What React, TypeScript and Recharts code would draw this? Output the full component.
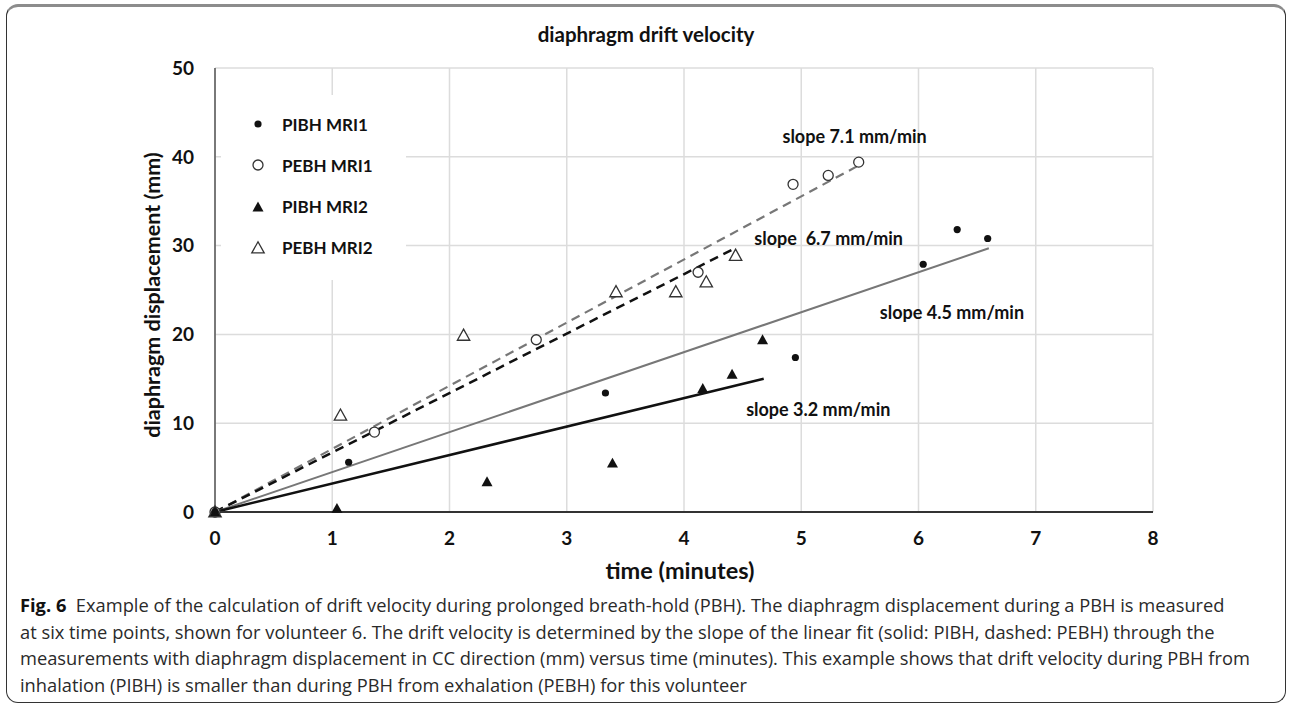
import {
    CartesianGrid,
    ReferenceDot,
    ReferenceLine,
    Scatter,
    ScatterChart,
    XAxis,
    YAxis,
} from "recharts"

// points (time in minutes, displacement in mm)
const pibhMri1 = [
    { x: 0, y: 0 },
    { x: 1.14, y: 5.6 },
    { x: 3.33, y: 13.4 },
    { x: 4.95, y: 17.4 },
    { x: 6.04, y: 27.9 },
    { x: 6.33, y: 31.8 },
    { x: 6.59, y: 30.8 },
]
const pebhMri1 = [
    { x: 0, y: 0 },
    { x: 1.36, y: 9.0 },
    { x: 2.74, y: 19.4 },
    { x: 4.12, y: 27.0 },
    { x: 4.93, y: 36.9 },
    { x: 5.23, y: 37.9 },
    { x: 5.49, y: 39.4 },
]
const pibhMri2 = [
    { x: 0, y: 0 },
    { x: 1.04, y: 0.4 },
    { x: 2.32, y: 3.4 },
    { x: 3.39, y: 5.5 },
    { x: 4.16, y: 13.9 },
    { x: 4.41, y: 15.5 },
    { x: 4.67, y: 19.4 },
]
const pebhMri2 = [
    { x: 0, y: 0 },
    { x: 1.07, y: 10.9 },
    { x: 2.12, y: 19.9 },
    { x: 3.42, y: 24.8 },
    { x: 3.93, y: 24.8 },
    { x: 4.19, y: 25.9 },
    { x: 4.44, y: 28.9 },
]

// linear fits (start and end points)
const fitPibhMri1 = [{ x: 0, y: 0 }, { x: 6.6, y: 29.7 }]
const fitPebhMri1 = [{ x: 0, y: 0 }, { x: 5.5, y: 39.1 }]
const fitPibhMri2 = [{ x: 0, y: 0 }, { x: 4.68, y: 15.0 }]
const fitPebhMri2 = [{ x: 0, y: 0 }, { x: 4.45, y: 29.8 }]

const slopeLabels = [
    { x: 4.84, y: 42.3, text: "slope 7.1 mm/min" },
    { x: 4.6, y: 30.9, text: "slope  6.7 mm/min" },
    { x: 5.67, y: 22.5, text: "slope 4.5 mm/min" },
    { x: 4.53, y: 11.6, text: "slope 3.2 mm/min" },
]

const xTicks = [0, 1, 2, 3, 4, 5, 6, 7, 8]
const yTicks = [0, 10, 20, 30, 40, 50]

const seriesNames = ["PIBH MRI1", "PEBH MRI1", "PIBH MRI2", "PEBH MRI2"]

const captionLines = [
    "Example of the calculation of drift velocity during prolonged breath-hold (PBH). The diaphragm displacement during a PBH is measured",
    "at six time points, shown for volunteer 6. The drift velocity is determined by the slope of the linear fit (solid: PIBH, dashed: PEBH) through the",
    "measurements with diaphragm displacement in CC direction (mm) versus time (minutes). This example shows that drift velocity during PBH from",
    "inhalation (PIBH) is smaller than during PBH from exhalation (PEBH) for this volunteer",
]

const chartFont = "Lato, 'Open Sans', sans-serif"

function marker(kind: number, cx: number, cy: number) {
    if (kind === 0) return <circle cx={cx} cy={cy} r={3.6} fill="#111" />
    if (kind === 1)
        return <circle cx={cx} cy={cy} r={5} fill="#fff" stroke="#333" strokeWidth={1.3} />
    if (kind === 2) {
        const s = 5.5
        return (
            <polygon
                points={`${cx},${cy - s} ${cx + s},${cy + s * 0.8} ${cx - s},${cy + s * 0.8}`}
                fill="#111"
            />
        )
    }
    const s = 6.2
    return (
        <polygon
            points={`${cx},${cy - s} ${cx + s},${cy + s * 0.8} ${cx - s},${cy + s * 0.8}`}
            fill="#fff"
            stroke="#333"
            strokeWidth={1.3}
        />
    )
}

const shapeOf = (kind: number) => (props: any) => marker(kind, props.cx, props.cy)

// legend sits in a white box in the upper left of the plot
function LegendBox() {
    return (
        <div
            style={{
                position: "absolute",
                left: 221,
                top: 95,
                width: 185,
                height: 185,
                background: "#fff",
                fontFamily: chartFont,
            }}
        >
            {seriesNames.map((name, i) => (
                <div
                    key={name}
                    style={{
                        position: "absolute",
                        left: 0,
                        top: 18 + i * 41.3,
                        height: 22,
                        display: "flex",
                        alignItems: "center",
                    }}
                >
                    <svg width={59} height={22}>
                        {marker(i, 37, 11)}
                    </svg>
                    <span style={{ marginLeft: 2, fontWeight: 700, fontSize: 17, color: "#111" }}>{name}</span>
                </div>
            ))}
        </div>
    )
}

export default function App() {
    return (
        <div style={{ position: "absolute", left: 0, top: 0, width: 1290, height: 706, background: "#fff" }}>
            <div
                style={{
                    position: "absolute",
                    left: 6,
                    top: 4,
                    width: 1280,
                    height: 699,
                    boxSizing: "border-box",
                    border: "1.5px solid #333",
                    borderTop: "3px solid #8c8c8c",
                    borderRadius: 12,
                }}
            />
            <div
                style={{
                    position: "absolute",
                    left: 0,
                    width: 1292,
                    top: 22,
                    textAlign: "center",
                    fontFamily: chartFont,
                    fontWeight: 700,
                    fontSize: 20.5,
                    color: "#111",
                }}
            >
                diaphragm drift velocity
            </div>
            <div style={{ position: "absolute", left: 0, top: 0 }}>
                <ScatterChart width={1290} height={600} margin={{ top: 68, right: 137, left: 155, bottom: 28 }}>
                    <CartesianGrid stroke="#dcdcdc" strokeWidth={1.5} horizontalValues={yTicks} verticalValues={xTicks} />
                    <XAxis
                        type="number"
                        dataKey="x"
                        domain={[0, 8]}
                        ticks={xTicks}
                        height={60}
                        axisLine={{ stroke: "#333", strokeWidth: 2 }}
                        tickLine={false}
                        tickMargin={14}
                        tick={{ fill: "#111", fontSize: 19, fontWeight: 700, fontFamily: chartFont }}
                        label={{
                            value: "time (minutes)",
                            position: "bottom",
                            offset: -10,
                            dx: -4,
                            fill: "#111",
                            fontSize: 23.5,
                            fontWeight: 700,
                            fontFamily: chartFont,
                        }}
                    />
                    <YAxis
                        type="number"
                        dataKey="y"
                        domain={[0, 50]}
                        ticks={yTicks}
                        width={60}
                        axisLine={{ stroke: "#555", strokeWidth: 1.5 }}
                        tickLine={false}
                        tickMargin={15}
                        tick={{ fill: "#111", fontSize: 19, fontWeight: 700, fontFamily: chartFont }}
                        label={{
                            content: (p: any) => {
                                const vb = p.viewBox
                                const cx = vb.x - 3
                                const cy = vb.y + vb.height / 2 + 5
                                return (
                                    <text
                                        x={cx}
                                        y={cy}
                                        transform={`rotate(-90 ${cx} ${cy})`}
                                        textAnchor="middle"
                                        dominantBaseline="central"
                                        fill="#111"
                                        fontSize={21.5}
                                        fontWeight={700}
                                        fontFamily={chartFont}
                                    >
                                        diaphragm displacement (mm)
                                    </text>
                                )
                            },
                        }}
                    />
                    <ReferenceLine segment={fitPebhMri1} stroke="#777" strokeWidth={2.2} strokeDasharray="9 6" />
                    <ReferenceLine segment={fitPebhMri2} stroke="#111" strokeWidth={2.5} strokeDasharray="9 6" />
                    <ReferenceLine segment={fitPibhMri1} stroke="#777" strokeWidth={2} />
                    <ReferenceLine segment={fitPibhMri2} stroke="#111" strokeWidth={2.5} />
                    <Scatter name={seriesNames[1]} data={pebhMri1} shape={shapeOf(1)} isAnimationActive={false} />
                    <Scatter name={seriesNames[3]} data={pebhMri2} shape={shapeOf(3)} isAnimationActive={false} />
                    <Scatter name={seriesNames[0]} data={pibhMri1} shape={shapeOf(0)} isAnimationActive={false} />
                    <Scatter name={seriesNames[2]} data={pibhMri2} shape={shapeOf(2)} isAnimationActive={false} />
                    {slopeLabels.map((s) => (
                        <ReferenceDot
                            key={s.text}
                            x={s.x}
                            y={s.y}
                            r={0}
                            shape={(p: any) => (
                                <text
                                    x={p.cx}
                                    y={p.cy}
                                    dominantBaseline="central"
                                    fill="#111"
                                    fontSize={18}
                                    fontWeight={700}
                                    fontFamily={chartFont}
                                    style={{ whiteSpace: "pre" }}
                                >
                                    {s.text}
                                </text>
                            )}
                        />
                    ))}
                </ScatterChart>
            </div>
            <LegendBox />
            <div
                style={{
                    position: "absolute",
                    left: 20,
                    top: 592,
                    fontFamily: "'Open Sans', sans-serif",
                    fontSize: 18.3,
                    lineHeight: "26.7px",
                    color: "#2a2a2a",
                    whiteSpace: "nowrap",
                }}
            >
                {captionLines.map((line, i) => (
                    <div key={i}>
                        {i === 0 && <b style={{ color: "#111" }}>Fig. 6&nbsp;&nbsp;</b>}
                        {line}
                    </div>
                ))}
            </div>
        </div>
    )
}
